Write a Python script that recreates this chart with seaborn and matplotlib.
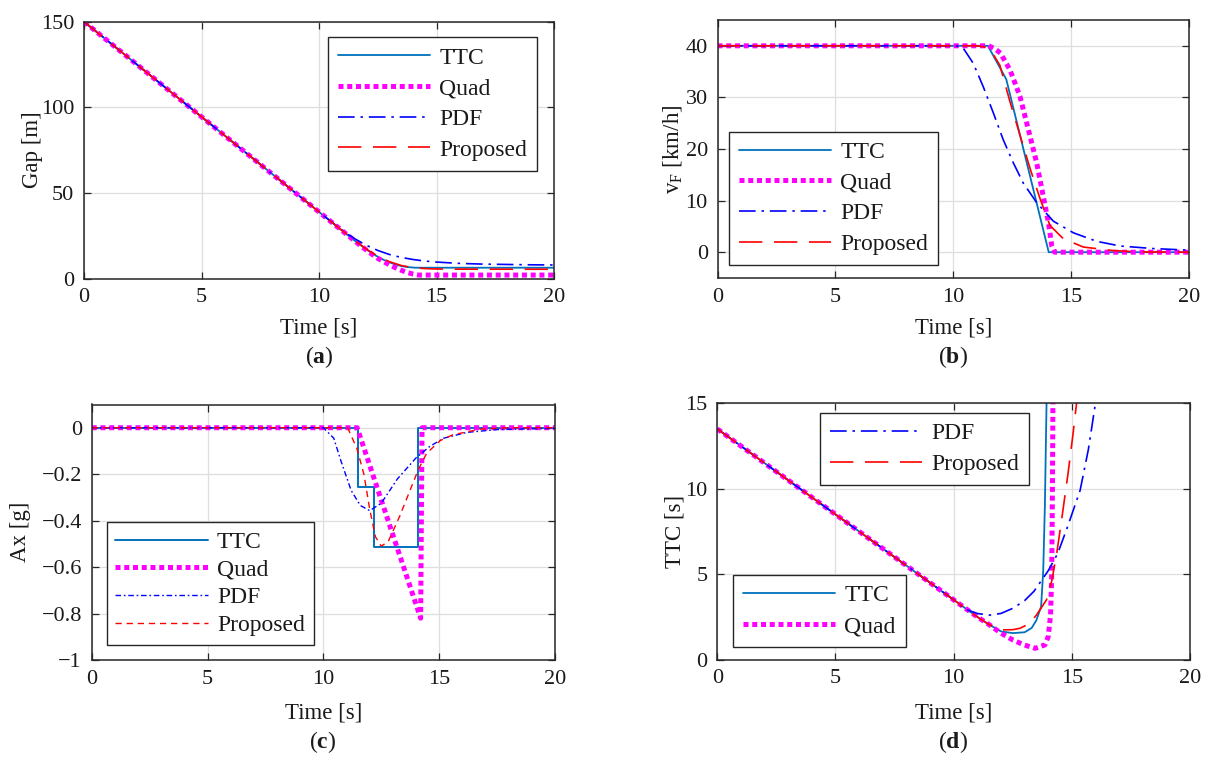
import matplotlib
matplotlib.use("Agg")
import matplotlib.pyplot as plt
import seaborn as sns

# ---------------- data ----------------
series_names = ["TTC", "Quad", "PDF", "Proposed"]
x_ticks = [0, 5, 10, 15, 20]

# (a) Gap [m]
gap_t_ttc = [0, 11.45, 11.75, 12.0, 12.25, 12.5, 12.75, 13.0, 13.25, 13.5, 13.75, 14.1, 20]
gap_ttc = [150, 22.8, 19.8, 17.1, 14.8, 12.7, 10.9, 9.4, 8.2, 7.3, 6.7, 6.3, 6.3]
gap_t_quad = [0, 11.5, 11.75, 12.0, 12.25, 12.5, 12.75, 13.0, 13.25, 13.5, 13.75, 14.0, 14.25, 20]
gap_quad = [150, 22.2, 19.4, 16.8, 14.2, 11.8, 9.8, 8.0, 6.3, 4.8, 3.5, 2.6, 2.0, 2.0]
gap_t_pdf = [0, 10, 10.5, 11, 11.5, 12, 12.5, 13, 13.5, 14, 14.5, 15, 16, 17, 18, 19, 20]
gap_pdf = [150, 38.9, 33.4, 28.1, 23.4, 19.5, 16.4, 14.0, 12.3, 11.1, 10.2, 9.6, 8.8, 8.4, 8.2, 8.0, 7.9]
gap_t_prop = [0, 11, 11.5, 12, 12.5, 13, 13.5, 14, 14.5, 15, 16, 20]
gap_prop = [150, 27.8, 22.4, 17.3, 13.0, 9.8, 7.6, 6.3, 5.8, 5.55, 5.45, 5.4]
gap_ticks = [0, 50, 100, 150]

# (b) vF [km/h]
v_t_ttc = [0, 11.47, 12.25, 14.05, 20]
v_ttc = [40, 40, 33.5, 0, 0]
v_t_quad = [0, 11.5, 11.77, 12.0, 12.41, 12.83, 13.19, 13.54, 13.82, 14.04, 14.18, 14.3, 20]
v_quad = [40, 40, 39.4, 38.6, 35.3, 30.2, 23.7, 17.3, 10.8, 5.7, 1.2, 0, 0]
v_t_pdf = [0, 10.0, 10.2, 10.43, 10.85, 11.27, 11.7, 12.12, 12.55, 12.97, 13.54, 14.25, 15.1, 16.09, 17.08, 18.5, 20]
v_pdf = [40, 40, 39.9, 39.5, 36.6, 32.1, 27.0, 21.8, 17.3, 13.4, 9.6, 6.0, 3.75, 2.1, 1.2, 0.7, 0.4]
v_t_prop = [0, 11.0, 11.3, 11.56, 11.98, 12.41, 12.83, 13.26, 13.68, 14.1, 14.67, 15.52, 16.8, 18, 20]
v_prop = [40, 40, 39.8, 39.4, 36.2, 29.1, 22.7, 16.2, 10.4, 5.2, 2.6, 1.0, 0.3, 0.05, 0]
v_ticks = [0, 10, 20, 30, 40]

# (c) Ax [g]
a_t_ttc = [0, 11.5, 11.5, 12.2, 12.2, 14.07, 14.07, 20]
a_ttc = [0, 0, -0.257, -0.257, -0.512, -0.512, 0, 0]
a_t_quad = [0, 11.46, 14.2, 14.26, 20]
a_quad = [0, 0, -0.82, 0, 0]
a_t_pdf = [0, 10.0, 10.45, 10.75, 11.2, 11.6, 12.0, 12.5, 13.2, 14.0, 14.6, 15.2, 16.2, 17.5, 20]
a_pdf = [0, 0, -0.045, -0.14, -0.27, -0.335, -0.357, -0.325, -0.22, -0.13, -0.08, -0.045, -0.02, -0.008, -0.003]
a_t_prop = [0, 11.05, 11.45, 11.75, 12.0, 12.25, 12.5, 12.8, 13.3, 13.74, 14.1, 14.46, 15.05, 15.6, 16.8, 18, 20]
a_prop = [0, 0, -0.09, -0.2, -0.35, -0.47, -0.51, -0.49, -0.38, -0.27, -0.18, -0.11, -0.055, -0.03, -0.006, 0, 0]
a_ticks = [-1, -0.8, -0.6, -0.4, -0.2, 0]
a_tick_labels = ["\u22121", "\u22120.8", "\u22120.6", "\u22120.4", "\u22120.2", "0"]

# (d) TTC [s]
ttc_t_ttc = [0, 10, 11, 11.5, 12, 12.5, 13, 13.3, 13.5, 13.7, 13.79, 13.86, 13.93, 13.96]
ttc_ttc = [13.5, 3.5, 2.5, 2.05, 1.65, 1.55, 1.6, 1.85, 2.3, 3.1, 5.2, 9.0, 15, 17]
ttc_t_quad = [0, 10, 11, 11.5, 12, 12.5, 13, 13.45, 13.86, 14.0, 14.1, 14.15, 14.18, 14.2, 14.22]
ttc_quad = [13.5, 3.5, 2.5, 2.05, 1.55, 1.15, 0.85, 0.66, 0.86, 1.34, 2.6, 5.0, 10, 15, 17]
ttc_t_pdf = [0, 10, 10.5, 11, 11.5, 12, 12.5, 13, 13.4, 14, 14.4, 14.8, 15.35, 15.7, 16.0, 16.1]
ttc_pdf = [13.5, 3.5, 2.95, 2.7, 2.6, 2.7, 3.0, 3.45, 4.0, 5.2, 6.2, 7.7, 9.9, 12.3, 15, 15.8]
ttc_t_prop = [0, 10, 11, 11.5, 12, 12.5, 12.8, 13.2, 13.5, 13.93, 14.15, 14.36, 14.6, 14.85, 15.05, 15.2, 15.3]
ttc_prop = [13.5, 3.5, 2.5, 2.05, 1.74, 1.75, 1.83, 2.1, 2.6, 3.5, 4.6, 6.2, 8.5, 11.0, 13.2, 15.0, 16.3]
ttc_ticks = [0, 5, 10, 15]

# ---------------- style ----------------
sns.set_style("ticks")
plt.rcParams.update({
    "font.family": ["Liberation Serif", "DejaVu Serif"],
    "mathtext.fontset": "custom",
    "mathtext.rm": "Liberation Serif",
    "mathtext.it": "Liberation Serif:italic",
    "mathtext.bf": "Liberation Serif:bold",
    "axes.unicode_minus": True,
})

C_TTC, C_QUAD, C_PDF, C_PROP = "#0072BD", "#FF00FF", "#0000FF", "#FF0000"
EDGE = "#262626"
TICK_FS, LABEL_FS, LEG_FS = 16, 16.5, 17

style_main = {
    "TTC": dict(color=C_TTC, lw=1.3, linestyle="-"),
    "Quad": dict(color=C_QUAD, lw=3.6, linestyle=(0, (1, 0.75))),
    "PDF": dict(color=C_PDF, lw=1.2, linestyle=(0, (10, 3.5, 1.5, 3.5))),
    "Proposed": dict(color=C_PROP, lw=1.2, linestyle=(0, (14, 7))),
}
style_c = {
    "TTC": dict(color=C_TTC, lw=1.4, linestyle="-"),
    "Quad": dict(color=C_QUAD, lw=3.6, linestyle=(0, (1, 0.75))),
    "PDF": dict(color=C_PDF, lw=1.0, linestyle=(0, (4, 2, 1.2, 2))),
    "Proposed": dict(color=C_PROP, lw=1.0, linestyle=(0, (4.5, 3.5))),
}

W, H = 1205, 758
fig = plt.figure(figsize=(W / 100, H / 100), dpi=100)


def px_axes(left, top, right, bottom):
    return fig.add_axes([left / W, 1 - bottom / H, (right - left) / W, (bottom - top) / H])


ax_a = px_axes(84, 21.7, 554, 278.5)
ax_b = px_axes(717.5, 20, 1189, 278)
ax_c = px_axes(91.7, 404.5, 555, 660)
ax_d = px_axes(717.3, 403.3, 1190, 659.6)


def draw(ax, t, y, name, styles):
    sns.lineplot(x=t, y=y, ax=ax, label=name, estimator=None, sort=False, **styles[name])


panels = [
    (ax_a, [(gap_t_ttc, gap_ttc), (gap_t_quad, gap_quad), (gap_t_pdf, gap_pdf), (gap_t_prop, gap_prop)], style_main),
    (ax_b, [(v_t_ttc, v_ttc), (v_t_quad, v_quad), (v_t_pdf, v_pdf), (v_t_prop, v_prop)], style_main),
    (ax_c, [(a_t_ttc, a_ttc), (a_t_quad, a_quad), (a_t_pdf, a_pdf), (a_t_prop, a_prop)], style_c),
    (ax_d, [(ttc_t_ttc, ttc_ttc), (ttc_t_quad, ttc_quad), (ttc_t_pdf, ttc_pdf), (ttc_t_prop, ttc_prop)], style_main),
]
for ax, data, sty in panels:
    for name, (t, y) in zip(series_names, data):
        draw(ax, t, y, name, sty)

# limits / ticks
for ax in (ax_a, ax_b, ax_c, ax_d):
    ax.set_xlim(0, 20)
    ax.set_xticks(x_ticks)
    ax.set_xticklabels([str(v) for v in x_ticks])
    ax.grid(True, color="#dedede", lw=0.9)
    ax.set_axisbelow(True)
    for s in ax.spines.values():
        s.set_color(EDGE)
        s.set_linewidth(1.1)
    ax.tick_params(direction="in", length=5, width=0.9, top=True, right=True,
                   labelsize=TICK_FS, colors=EDGE, labelcolor="#1a1a1a", pad=7)

ax_a.set_ylim(0, 150)
ax_a.set_yticks(gap_ticks)
ax_a.set_yticklabels([str(v) for v in gap_ticks])
ax_b.set_ylim(-5, 45)
ax_b.set_yticks(v_ticks)
ax_b.set_yticklabels([str(v) for v in v_ticks])
ax_c.set_ylim(-1, 0.1)
ax_c.set_yticks(a_ticks)
ax_c.set_yticklabels(a_tick_labels)
ax_d.set_ylim(0, 15)
ax_d.set_yticks(ttc_ticks)
ax_d.set_yticklabels([str(v) for v in ttc_ticks])

# labels
ylabels = {ax_a: ("Gap [m]", -0.088), ax_b: ("$\\mathregular{v_F}$ [km/h]", -0.072),
           ax_c: ("Ax [g]", -0.132), ax_d: ("TTC [s]", -0.067)}
for ax, (txt, xc) in ylabels.items():
    ax.set_ylabel(txt, fontsize=LABEL_FS, color="#1a1a1a")
    ax.yaxis.set_label_coords(xc, 0.5)
for ax in (ax_a, ax_b):
    ax.set_xlabel("Time [s]", fontsize=LABEL_FS, color="#1a1a1a")
    ax.xaxis.set_label_coords(0.5, -0.153)
for ax in (ax_c, ax_d):
    ax.set_xlabel("Time [s]", fontsize=LABEL_FS, color="#1a1a1a")
    ax.xaxis.set_label_coords(0.5, -0.167)

# legends
leg_kw = dict(fontsize=LEG_FS, frameon=True, fancybox=False, framealpha=1, edgecolor=EDGE,
              handlelength=3.9, handletextpad=0.4, borderpad=0.42, labelspacing=0.39,
              borderaxespad=0)
leg_kw_c = dict(leg_kw, labelspacing=0.26, borderpad=0.38)


def style_leg(leg):
    leg.get_frame().set_linewidth(1.0)
    for t in leg.get_texts():
        t.set_color("#1a1a1a")


h, l = ax_a.get_legend_handles_labels()
style_leg(ax_a.legend(h, l, loc="upper right", bbox_to_anchor=(0.964, 0.94), **leg_kw))
h, l = ax_b.get_legend_handles_labels()
style_leg(ax_b.legend(h, l, loc="lower left", bbox_to_anchor=(0.024, 0.05), **leg_kw))
h, l = ax_c.get_legend_handles_labels()
style_leg(ax_c.legend(h, l, loc="lower left", bbox_to_anchor=(0.032, 0.059), **leg_kw_c))
h, l = ax_d.get_legend_handles_labels()
leg_top = ax_d.legend(h[2:], l[2:], loc="upper left", bbox_to_anchor=(0.217, 0.962), **leg_kw)
style_leg(leg_top)
ax_d.add_artist(leg_top)
style_leg(ax_d.legend(h[:2], l[:2], loc="lower left", bbox_to_anchor=(0.033, 0.049), **leg_kw))

# panel letters
for xc, yc, letter in [(319, 357, "a"), (953, 357, "b"), (323, 742, "c"), (953, 742, "d")]:
    fig.text(xc / W, 1 - yc / H, "($\\mathbf{%s}$)" % letter, ha="center", va="center",
             fontsize=LEG_FS, color="#1a1a1a")

fig.savefig("out.png", dpi=100)
